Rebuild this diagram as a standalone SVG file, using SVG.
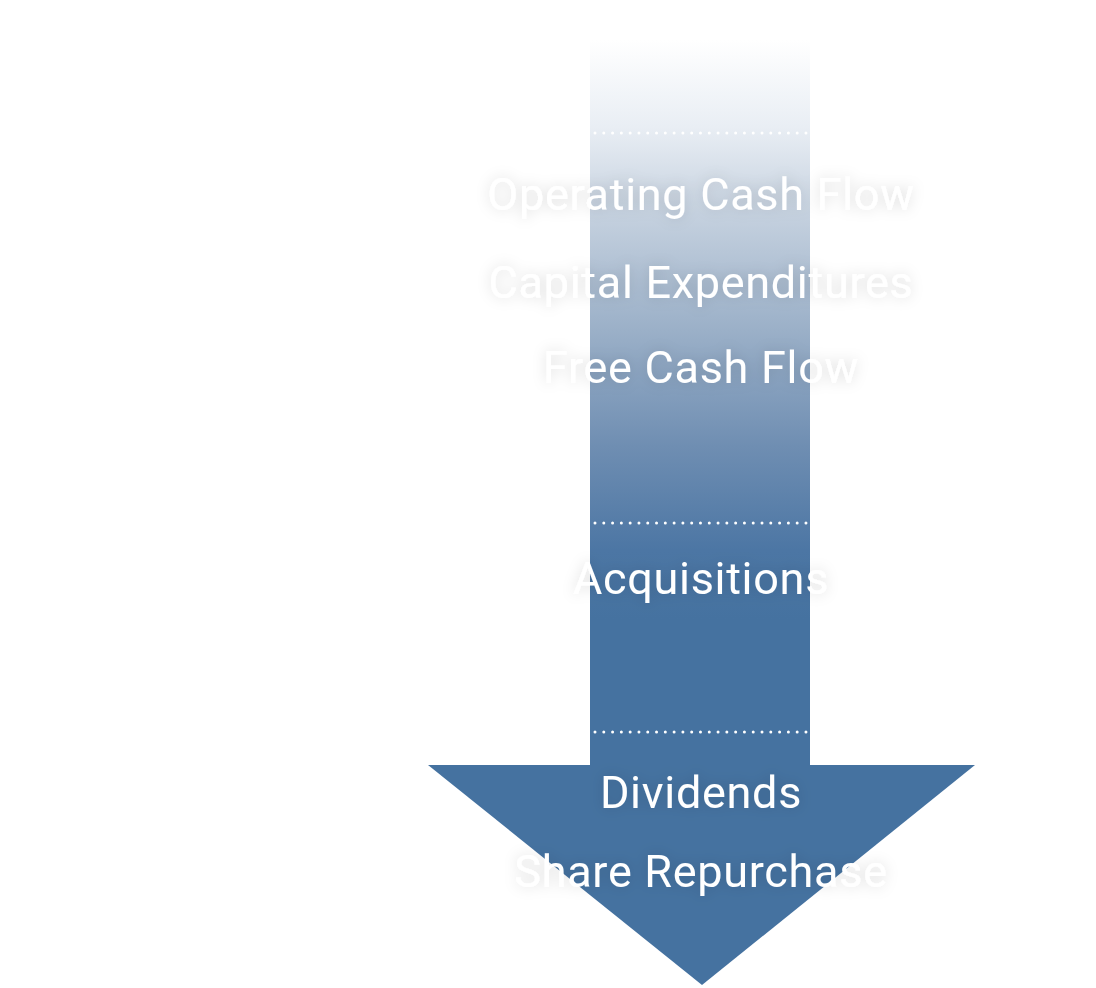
<svg xmlns="http://www.w3.org/2000/svg" width="1096" height="988" viewBox="0 0 1096 988">
<defs>
<linearGradient id="shaftGrad" gradientUnits="userSpaceOnUse" x1="0" y1="40" x2="0" y2="620">
<stop offset="0" stop-color="#ffffff"/>
<stop offset="0.15" stop-color="#e9eef4"/>
<stop offset="0.3" stop-color="#c5d1df"/>
<stop offset="0.5" stop-color="#9bb0c8"/>
<stop offset="0.7" stop-color="#6f8eb2"/>
<stop offset="0.88" stop-color="#4c76a4"/>
<stop offset="1" stop-color="#4572a0"/>
</linearGradient>
<filter id="glow" x="-20%" y="-60%" width="140%" height="220%">
<feDropShadow dx="0" dy="0" stdDeviation="7" flood-color="#000000" flood-opacity="0.15"/>
</filter>
</defs>
<style>
.lbl{font-family:Roboto,"Liberation Sans",sans-serif;font-size:45px;letter-spacing:0.7px;fill:#ffffff;text-anchor:middle;filter:url(#glow)}
.dots{stroke:#ffffff;stroke-width:3;stroke-linecap:round;stroke-dasharray:0 8.79;fill:none}
</style>
<g id="arrow">
<rect x="590" y="40" width="220" height="726" fill="url(#shaftGrad)"/>
<polygon points="428,765 975,765 702,985" fill="#4572a0"/>
</g>
<g id="connectors">
<line class="dots" x1="595" y1="133" x2="806" y2="133"/>
<line class="dots" x1="595" y1="523" x2="806" y2="523"/>
<line class="dots" x1="595" y1="732" x2="806" y2="732"/>
</g>
<g id="operating-cash-flow"><text class="lbl" x="701" y="210">Operating Cash Flow</text></g>
<g id="capital-expenditures"><text class="lbl" x="701" y="298">Capital Expenditures</text></g>
<g id="free-cash-flow"><text class="lbl" x="701" y="383">Free Cash Flow</text></g>
<g id="acquisitions"><text class="lbl" x="701" y="594">Acquisitions</text></g>
<g id="dividends"><text class="lbl" x="701" y="808">Dividends</text></g>
<g id="share-repurchase"><text class="lbl" x="701" y="887">Share Repurchase</text></g>
</svg>
